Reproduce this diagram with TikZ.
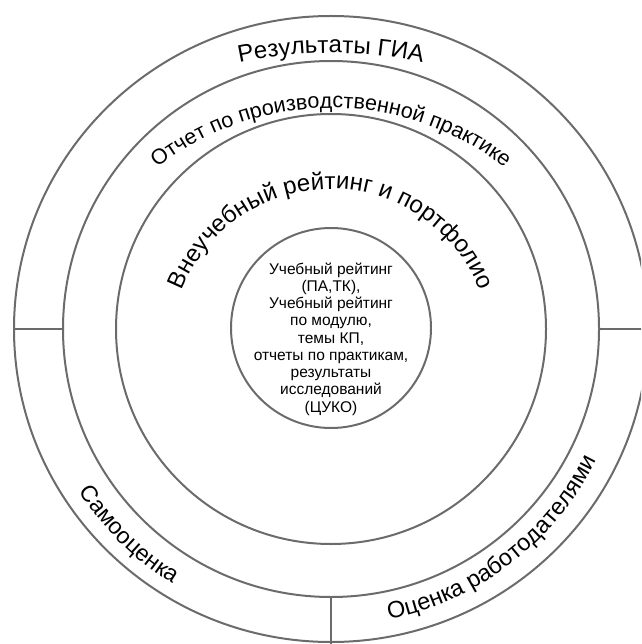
\documentclass[tikz,border=0pt]{standalone}
\usepackage{fontspec}
\setmainfont{Liberation Sans}
\usetikzlibrary{decorations.text,calc}
\definecolor{ringcol}{HTML}{6B6B6B}
\begin{document}
\begin{tikzpicture}[x=1pt,y=1pt,
  ring/.style={draw=ringcol,line width=2pt},
  divider/.style={draw=ringcol,line width=2pt},
  arctext/.style={decorate,decoration={text along path,text align=center,text={#1}}}]
\useasboundingbox (0,-644) rectangle (641,0);
\clip (0,-644) rectangle (641,0);
\coordinate (c) at (331,-329);
% rings
\draw[ring] (c) ellipse[x radius=317,y radius=313];
\draw[ring] (c) circle[radius=268];
\draw[ring] (c) circle[radius=215];
\draw[ring] (331,-328) circle[radius=100];
% dividers
\coordinate (l1) at ($(c)+(180:317)$);
\coordinate (l2) at ($(c)+(180:268)$);
\coordinate (r1) at ($(c)+(0:268)$);
\coordinate (r2) at ($(c)+(0:330)$);
\coordinate (b1) at ($(c)+(270:268)$);
\coordinate (b2) at ($(c)+(270:330)$);
\draw[divider] (l1) -- (l2);
\draw[divider] (r1) -- (r2);
\draw[divider] (b1) -- (b2);
% centre text
\node[align=center,font=\fontsize{15.5}{17.25}\selectfont] (core) at (331,-339)
 {Учебный рейтинг\\(ПА,ТК),\\Учебный рейтинг\\по модулю,\\темы КП,\\отчеты по практикам,\\результаты\\исследований\\(ЦУКО)};
% curved texts
\coordinate (cg) at (331,-493);
\path[arctext={|\fontsize{24}{28}\selectfont|Результаты ГИА}]
  ($(cg)+(120:440)$) arc[start angle=120,end angle=60,radius=440];
\coordinate (co) at (331,-390);
\path[arctext={|\fontsize{21.5}{25}\selectfont|Отчет по производственной практике}]
  ($(co)+(150:282)$) arc[start angle=150,end angle=30,radius=282];
\coordinate (cv) at (331,-349);
\path[arctext={|\fontsize{24}{28}\selectfont|Внеучебный рейтинг и портфолио}]
  ($(cv)+(180:160)$) arc[start angle=180,end angle=0,radius=160];
\path[arctext={|\fontsize{23}{27}\selectfont|Самооценка}]
  ($(c)+(180:300)$) arc[start angle=180,end angle=271,radius=300];
\path[arctext={|\fontsize{23.5}{27}\selectfont|Оценка работодателями}]
  ($(c)+(-95:296)$) arc[start angle=-95,end angle=-10,radius=296];
\end{tikzpicture}
\end{document}
